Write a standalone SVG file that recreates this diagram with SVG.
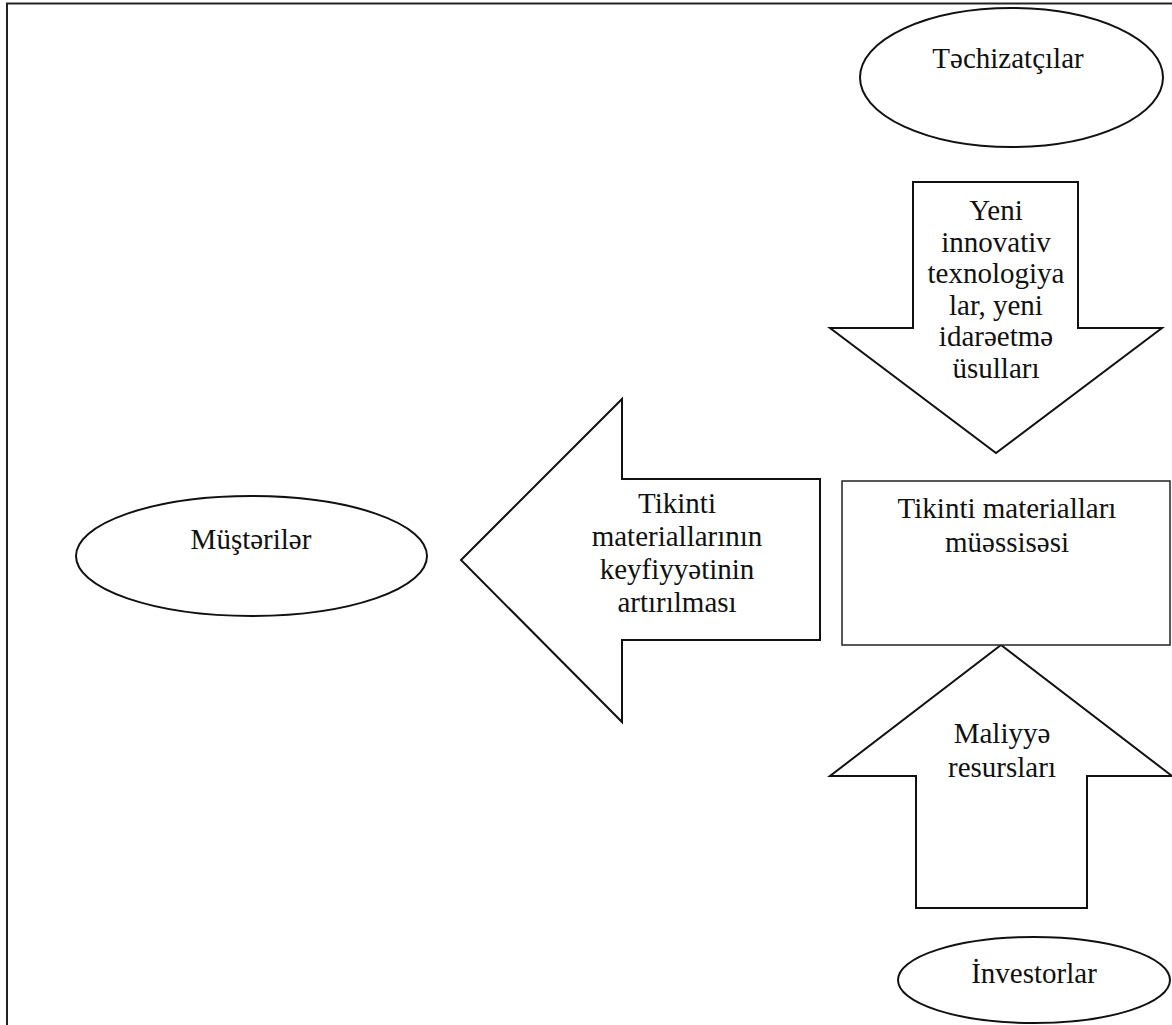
<svg xmlns="http://www.w3.org/2000/svg" width="1172" height="1025" viewBox="0 0 1172 1025">
<style>
.shape{fill:#fff;stroke:#111;stroke-width:2;stroke-linejoin:miter}
.box{fill:#fff;stroke:#222;stroke-width:1.5}
.t{font-family:'Liberation Serif','Tinos','Times New Roman','Nimbus Roman','DejaVu Serif',serif;font-size:29px;fill:#111;text-anchor:middle}
</style>
<rect x="0" y="0" width="1172" height="1025" fill="#fff"/>
<rect x="7" y="3.5" width="1200" height="1100" fill="none" stroke="#222" stroke-width="2"/>
<g id="connectors">
<g id="arrow-down">
<polygon class="shape" points="913,182 1078,182 1078,328 1162,328 996,453 830,328 913,328"/>
<text class="t" x="996" y="220">Yeni</text>
<text class="t" x="996" y="251.6">innovativ</text>
<text class="t" x="996" y="283.2">texnologiya</text>
<text class="t" x="996" y="314.8">lar, yeni</text>
<text class="t" x="996" y="346.4">idarəetmə</text>
<text class="t" x="996" y="378">üsulları</text>
</g>
<g id="arrow-left">
<polygon class="shape" points="820,479 820,640 622,640 622,722 461,560 622,399 622,479"/>
<text class="t" x="677" y="513">Tikinti</text>
<text class="t" x="677" y="546">materiallarının</text>
<text class="t" x="677" y="579">keyfiyyətinin</text>
<text class="t" x="677" y="612">artırılması</text>
</g>
<g id="arrow-up">
<polygon class="shape" points="916,908 1087,908 1087,776 1172,776 1001,645 830,776 916,776"/>
<text class="t" x="1002" y="743">Maliyyə</text>
<text class="t" x="1002" y="777">resursları</text>
</g>
</g>
<g id="node-suppliers">
<ellipse class="shape" cx="1011.5" cy="77.5" rx="151.5" ry="69.5"/>
<text class="t" x="1008" y="68">Təchizatçılar</text>
</g>
<g id="node-enterprise">
<rect class="box" x="842" y="481" width="328" height="164"/>
<text class="t" x="1007" y="518">Tikinti materialları</text>
<text class="t" x="1007" y="552">müəssisəsi</text>
</g>
<g id="node-customers">
<ellipse class="shape" cx="251.5" cy="556" rx="175.5" ry="60"/>
<text class="t" x="251" y="549">Müştərilər</text>
</g>
<g id="node-investors">
<ellipse class="shape" cx="1034" cy="980" rx="136" ry="43"/>
<text class="t" x="1034" y="983">İnvestorlar</text>
</g>
</svg>
